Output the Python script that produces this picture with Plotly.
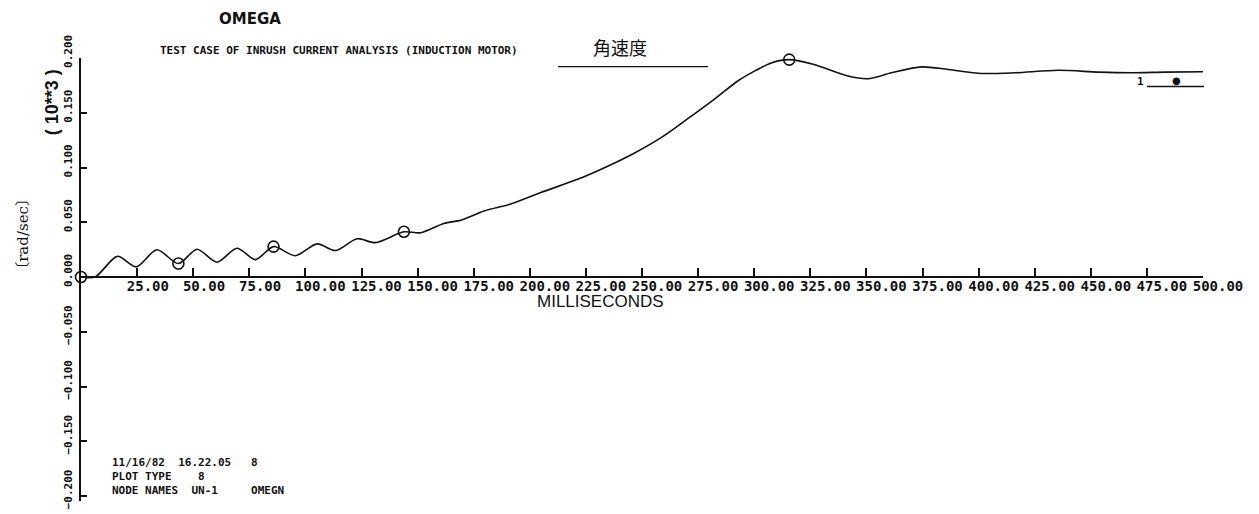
import plotly.graph_objects as go

# Rotor angular speed of the induction motor during start-up (units of 10**3 rad/sec)
time_ms = [0, 6.25, 16.2, 24.6, 33.8, 43.4, 51.7, 60.6, 69.5, 77.7, 85.8, 95.5,
           105.2, 113.4, 123.1, 131.2, 143.9, 151.3, 161.7, 170.0, 179.6, 191.5,
           204.9, 221.3, 234.7, 246.5, 258.5, 270.4, 282.3, 292.7, 300.1, 307.6,
           315.6, 326.7, 341.8, 350.7, 361.2, 374.5, 386.5, 401.3, 416.2, 435.6,
           453.4, 468.3, 483.1, 500.0]
omega = [0.0, 0.0, 0.0189, 0.0093, 0.0249, 0.0123, 0.0254, 0.0135, 0.0263, 0.0159,
         0.0278, 0.0195, 0.0303, 0.0242, 0.0350, 0.0314, 0.0413, 0.0404, 0.0488,
         0.0524, 0.0602, 0.0667, 0.0772, 0.0892, 0.1012, 0.1131, 0.1273, 0.1446,
         0.1625, 0.1790, 0.1880, 0.1955, 0.1985, 0.1940, 0.1835, 0.1811, 0.1865,
         0.1919, 0.1895, 0.1859, 0.1865, 0.1888, 0.1871, 0.1865, 0.1871, 0.1874]

# plotted symbol points along the curve
marker_t = [0.0, 43.4, 85.8, 143.9, 315.6]
marker_v = [0.0, 0.0123, 0.0278, 0.0413, 0.1985]

x_ticks = [25 * i for i in range(1, 21)]
x_ticktext = [f"{v:.2f}" + ("\u00a0" if v < 100 else "") for v in x_ticks]
y_ticks = [-0.2, -0.15, -0.1, -0.05, 0.0, 0.05, 0.1, 0.15, 0.2]

W, H = 1259, 514
L, R, T, B = 81, 56, 58, 5
PW, PH = W - L - R, H - T - B
Y_LO, Y_HI = -0.2045, 0.2


def paper(x, y):
    """Pixel position on the page -> paper coordinates."""
    return (x - L) / PW, (H - B - y) / PH


MONO = "DejaVu Sans Mono"
INK = "#111111"

fig = go.Figure()
fig.add_trace(go.Scatter(
    x=time_ms, y=omega, mode="lines",
    line=dict(color=INK, width=1.6, shape="spline", smoothing=0.8),
    cliponaxis=False, showlegend=False, hoverinfo="skip"))
fig.add_trace(go.Scatter(
    x=marker_t, y=marker_v, mode="markers",
    marker=dict(symbol="circle-open", size=11, color=INK, line=dict(width=1.6)),
    cliponaxis=False, showlegend=False, hoverinfo="skip"))

zero_pos = (0 - Y_LO) / (Y_HI - Y_LO)

fig.update_layout(
    width=W, height=H,
    margin=dict(l=L, r=R, t=T, b=B),
    paper_bgcolor="white", plot_bgcolor="white",
    xaxis=dict(
        range=[0, 500], anchor="free", position=zero_pos,
        showline=True, linecolor=INK, linewidth=2,
        showgrid=False, zeroline=False,
        tickmode="array", tickvals=x_ticks, ticktext=x_ticktext,
        ticks="inside", ticklen=8, tickwidth=1.6, tickcolor=INK,
        ticklabelshift=15, ticklabelstandoff=-4,
        tickfont=dict(family=MONO, size=14, color=INK, weight="bold"),
    ),
    yaxis=dict(
        range=[Y_LO, Y_HI],
        showline=True, linecolor=INK, linewidth=2,
        showgrid=False, zeroline=False,
        tickmode="array", tickvals=y_ticks, tickformat=".3f",
        ticks="inside", ticklen=6, tickwidth=1.5, tickcolor=INK,
        tickangle=-90, ticklabelshift=-5, ticklabelstandoff=3,
        ticklabeloverflow="allow",
        tickfont=dict(family=MONO, size=11, color=INK, weight="bold"),
    ),
)

annotations = []


def add_text(text, x, y, size, family, xanchor="center", angle=0, weight="normal"):
    px_, py_ = paper(x, y)
    annotations.append(dict(
        text=text, x=px_, y=py_, xref="paper", yref="paper",
        xanchor=xanchor, yanchor="middle", showarrow=False, textangle=angle,
        font=dict(family=family, size=size, color=INK, weight=weight)))


add_text("OMEGA", 250, 18, 15, "DejaVu Sans", weight="bold")
add_text("TEST CASE OF INRUSH CURRENT ANALYSIS (INDUCTION MOTOR)", 158, 50, 11,
         MONO, xanchor="left", weight="bold")
add_text("角速度", 620, 47, 18, "Noto Sans CJK JP")
add_text("( 10**3 )", 52, 103, 18, "Liberation Sans", angle=-90, weight="bold")
add_text("〔rad/sec〕", 23, 237, 15, "DejaVu Serif, Noto Sans CJK JP", angle=-90)
add_text("MILLISECONDS", 600, 306, 17, "Liberation Sans")

nb = "\u00a0"
add_text("11/16/82" + nb * 2 + "16.22.05" + nb * 3 + "8", 110, 470, 11, MONO,
         xanchor="left", weight="bold")
add_text("PLOT TYPE" + nb * 4 + "8", 110, 484, 11, MONO, xanchor="left", weight="bold")
add_text("NODE NAMES" + nb * 2 + "UN-1" + nb * 5 + "OMEGN", 110, 498, 11, MONO,
         xanchor="left", weight="bold")

# curve key: id number, plotting symbol and rule
add_text("1", 1140, 82, 11, MONO, weight="bold")
add_text("●", 1176, 81, 10, "DejaVu Sans")
fig.update_layout(annotations=annotations)

shapes = []
for (x0, y0, x1, y1, w) in [(558, 66.7, 708, 66.7, 1.2), (1147, 87, 1204, 87, 1.5)]:
    a0, b0 = paper(x0, y0)
    a1, b1 = paper(x1, y1)
    shapes.append(dict(type="line", xref="paper", yref="paper", x0=a0, y0=b0,
                       x1=a1, y1=b1, line=dict(color=INK, width=w)))
fig.update_layout(shapes=shapes)

fig.write_html("out.html")
